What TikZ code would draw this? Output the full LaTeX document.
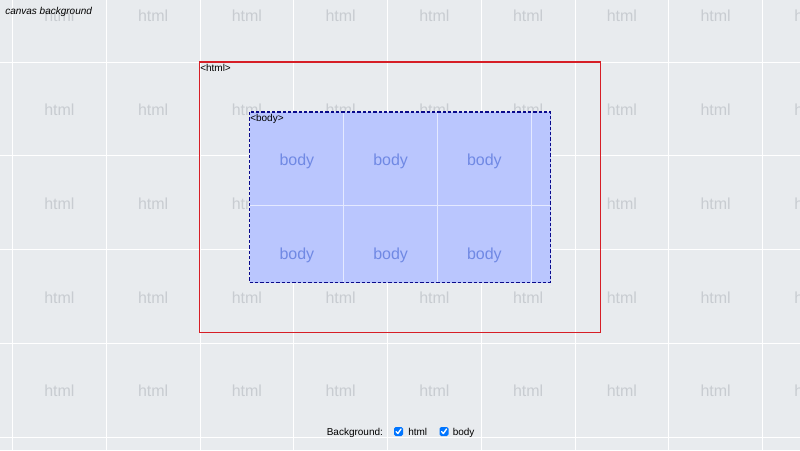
\documentclass[tikz,border=0pt]{standalone}
\usepackage{fontspec}
\setmainfont{Liberation Sans}
\definecolor{canvasbg}{RGB}{232,235,238}
\definecolor{htmlgray}{RGB}{200,204,209}
\definecolor{bodyfill}{RGB}{186,198,254}
\definecolor{bodyline}{RGB}{228,233,255}
\definecolor{bodytext}{RGB}{112,137,228}
\definecolor{htmlred}{RGB}{214,30,38}
\definecolor{bodynavy}{RGB}{10,10,140}
\definecolor{checkblue}{RGB}{0,117,255}
\begin{document}
\begin{tikzpicture}[x=0.75pt,y=-0.75pt]
     % Define styles
     \tikzstyle{tile} = [white, line width=0.75pt]
     \tikzstyle{bodytile} = [bodyline, line width=0.75pt]
     \tikzstyle{htmlword} = [text=htmlgray, font=\fontsize{12}{14}\selectfont, anchor=base, inner sep=0pt]
     \tikzstyle{bodyword} = [text=bodytext, font=\fontsize{12}{14}\selectfont, anchor=base, inner sep=0pt]
     \tikzstyle{small} = [font=\fontsize{7.5}{9}\selectfont, anchor=base west, inner sep=0pt]
     \tikzstyle{checkbox} = [fill=checkblue, rounded corners=1.2pt]
     \tikzstyle{tick} = [white, line width=1pt, line cap=round, line join=round]

     \useasboundingbox (0,0) rectangle (800,450);
     \fill[canvasbg] (0,0) rectangle (800,450);

     % html background tiles
     \begin{scope}
          \clip (0,0) rectangle (800,450);
          \foreach \x in {0,...,8} {
               \draw[tile] ({12.5+93.75*\x},0) -- ++(0,450);
          }
          \foreach \y in {0,...,4} {
               \draw[tile] (0,{62+93.75*\y}) -- ++(800,0);
          }
          \foreach \x in {0,...,8} {
               \foreach \y in {0,...,4} {
                    \node[htmlword] (html\x\y) at ({59.4+93.75*\x},{21.8+93.75*\y}) {html};
               }
          }
     \end{scope}

     % html element
     \draw[htmlred, line width=1.1pt] (199.5,62) rectangle (600.5,332.5);
     \node[small] (htmllabel) at (200,71) {<html>};

     % body element
     \fill[bodyfill] (249.5,112) rectangle (550.5,282.5);
     \begin{scope}
          \clip (249.5,112) rectangle (550.5,282.5);
          \foreach \x in {1,2,3} {
               \draw[bodytile] ({250+93.75*\x},112) -- ++(0,171);
          }
          \draw[bodytile] (249.5,205.75) -- ++(301,0);
          \foreach \x in {0,1,2} {
               \foreach \y in {0,1} {
                    \node[bodyword] (body\x\y) at ({296.9+93.75*\x},{165.8+93.75*\y}) {body};
               }
          }
     \end{scope}
     \draw[bodynavy, line width=1pt, dash pattern=on 2.5pt off 1.5pt] (249.5,112) rectangle (550.5,282.5);
     \node[small] (bodylabel) at (250,121) {<body>};

     % canvas label
     \node[small, font=\fontsize{7.5}{9}\selectfont\itshape] (canvaslabel) at (5,14) {canvas background};

     % Background checkboxes
     \node[small] (bglabel) at (326.5,435) {Background:};
     \fill[checkbox] (394,427) rectangle (403,436);
     \draw[tick] (396,431.5) -- (397.9,433.5) -- (401,429);
     \node[small] (htmlcheck) at (408,435) {html};
     \fill[checkbox] (439.5,427) rectangle (448.5,436);
     \draw[tick] (441.5,431.5) -- (443.4,433.5) -- (446.5,429);
     \node[small] (bodycheck) at (452.5,435) {body};

\end{tikzpicture}
\end{document}
